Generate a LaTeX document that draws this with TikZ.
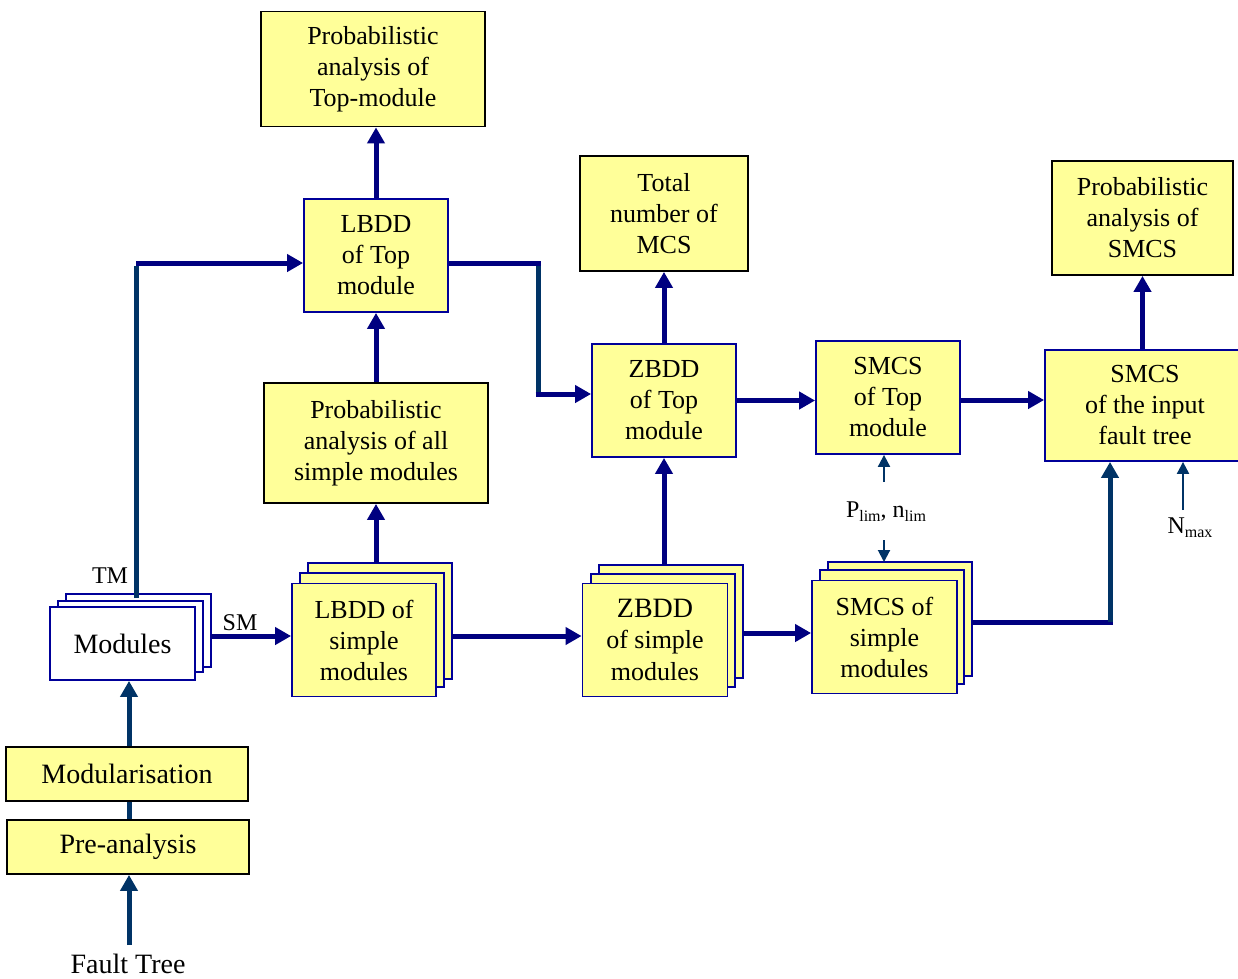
\documentclass[tikz,border=0pt]{standalone}
\usepackage{fontspec}
\setmainfont{Liberation Serif}
\usetikzlibrary{arrows.meta}
\definecolor{boxfill}{HTML}{FFFF99}
\definecolor{navyb}{HTML}{000099}
\definecolor{navyarrow}{HTML}{000080}
\definecolor{tealarrow}{HTML}{003366}
\newcommand{\sbs}[1]{\raisebox{-0.35ex}{\fontsize{16}{16}\selectfont #1}}
\begin{document}
\begin{tikzpicture}[x=1pt,y=-1pt,
  txt/.style={font=\fontsize{26}{31}\selectfont, align=center},
  outbox/.style={txt, draw=black, line width=1.8pt, fill=boxfill, inner sep=0pt},
  ddbox/.style={txt, draw=navyb, line width=1.8pt, fill=boxfill, inner sep=0pt, minimum width=144pt, minimum height=113pt},
  backbox/.style={draw=navyb, line width=1.8pt, fill=boxfill},
  thick arrow/.style={line width=5pt, -{Triangle[length=16pt,width=17pt]}},
  thin arrow/.style={line width=2pt, -{Triangle[length=12pt,width=12pt]}},
  plain/.style={line width=5pt}
]
\useasboundingbox (0,0) rectangle (1238,978);

% ---- back copies of stacked boxes
\draw[backbox] (308,563) rectangle (452,679);
\draw[backbox] (300,573) rectangle (444,687);
\draw[backbox] (599,565) rectangle (743,678);
\draw[backbox] (591,574) rectangle (735,687);
\draw[backbox] (828,562) rectangle (972,676);
\draw[backbox] (820,570) rectangle (964,684);
\draw[draw=navyb, line width=1.8pt, fill=white] (66,594) rectangle (211,667);
\draw[draw=navyb, line width=1.8pt, fill=white] (58,601) rectangle (203,672);

% ---- nodes
\node[outbox, minimum width=224pt, minimum height=115pt] (ptop) at (373,69) {Probabilistic\\analysis of\\Top-module};
\node[ddbox] (lbddtop) at (376,255.5) {LBDD\\of Top\\module};
\node[outbox, minimum width=224pt, minimum height=120pt] (pall) at (376,443) {Probabilistic\\analysis of all\\simple modules};
\node[ddbox] (lbdds) at (364,640) {LBDD of\\simple\\modules};
\node[draw=navyb, line width=1.8pt, fill=white, minimum width=145pt, minimum height=73pt, inner sep=0pt, font=\fontsize{28}{32}\selectfont] (modules) at (122.5,643.5) {Modules};
\node[outbox, minimum width=242pt, minimum height=54pt, font=\fontsize{28}{32}\selectfont] (modul) at (127,774) {Modularisation};
\node[outbox, minimum width=242pt, minimum height=54pt, font=\fontsize{28}{32}\selectfont] (prea) at (128,847) {Pre-analysis};
\node[font=\fontsize{28}{32}\selectfont, inner sep=0pt, anchor=north] (ft) at (128,954) {Fault Tree};

\node[outbox, minimum width=168pt, minimum height=115pt] (total) at (664,213.5) {Total\\number of\\MCS};
\node[ddbox] (zbddtop) at (664,400.5) {ZBDD\\of Top\\module};
\node[ddbox, minimum width=145pt, font=\fontsize{28}{32}\selectfont] (zbdds) at (655,640) {ZBDD\\[-1pt]{\fontsize{26}{31}\selectfont of simple}\\{\fontsize{26}{31}\selectfont modules}};
\node[ddbox] (smcstop) at (888,397.5) {SMCS\\of Top\\module};
\node[ddbox, minimum width=145pt] (smcss) at (884.5,637) {SMCS of\\simple\\modules};
\node[outbox, minimum width=181pt, minimum height=114pt] (psmcs) at (1142.5,218) {Probabilistic\\analysis of\\SMCS};
\node[ddbox, minimum width=200pt, minimum height=111pt] (smcsin) at (1145,405.5) {SMCS\\of the input\\fault tree};

\node[font=\fontsize{24}{28}\selectfont, inner sep=0pt] (tm) at (110,576) {TM};
\node[font=\fontsize{24}{28}\selectfont, inner sep=0pt] (sm) at (240,623) {SM};
\node[font=\fontsize{24}{28}\selectfont, inner sep=0pt] (plim) at (886,512) {P\sbs{lim}, n\sbs{lim}};
\node[font=\fontsize{24}{28}\selectfont, inner sep=0pt] (nmax) at (1190,528) {N\sbs{max}};

% ---- coordinates
\coordinate (tmtop) at (136,598);
\coordinate (tmcorner) at (136,263);
\coordinate (c1) at (538,263);
\coordinate (c2) at (538,394);
\coordinate (c3) at (1110,622);
\coordinate (lbddsback) at (376,563);
\coordinate (zbddsback) at (664,565);
\coordinate (smcsback) at (884,562);
\coordinate (plimup) at (884,482);
\coordinate (plimdown) at (884,540);
\coordinate (nmaxtop) at (1183,510);
\coordinate (ftend) at (129,945);

% ---- connectors
\draw[thick arrow, navyarrow] (lbddtop.north) -- (lbddtop.north |- ptop.south);
\draw[thick arrow, navyarrow] (pall.north) -- (pall.north |- lbddtop.south);
\draw[thick arrow, navyarrow] (lbddsback) -- (pall.south -| lbddsback);
\draw[thick arrow, navyarrow] (tmcorner) -- (lbddtop.west |- tmcorner);
\draw[plain, tealarrow] (tmtop) -- ([yshift=-2.5pt]tmcorner);
\draw[plain, navyarrow] (lbddtop.east |- c1) -- ([xshift=2.5pt]c1);
\draw[plain, tealarrow] ([yshift=-2.5pt]c1) -- ([yshift=2.5pt]c2);
\draw[thick arrow, navyarrow] ([xshift=-2.5pt]c2) -- (zbddtop.west |- c2);
\draw[thick arrow, navyarrow] (zbddtop.north) -- (total.south);
\draw[thick arrow, navyarrow] (zbddsback) -- (zbddtop.south);
\draw[thick arrow, navyarrow] (zbddtop.east) -- (smcstop.west |- zbddtop.east);
\draw[thick arrow, navyarrow] (smcstop.east |- 0,400) -- (smcsin.west |- 0,400);
\draw[thick arrow, navyarrow] (smcsin.north -| psmcs.south) -- (psmcs.south);
\draw[plain, navyarrow] (972,622) -- ([xshift=2.5pt]c3);
\draw[thick arrow, tealarrow] (c3) -- (smcsin.south -| c3);
\draw[thick arrow, navyarrow] (211,636) -- (lbdds.west |- 0,636);
\draw[thick arrow, navyarrow] (452,636) -- (zbdds.west |- 0,636);
\draw[thick arrow, navyarrow] (743,633) -- (smcss.west |- 0,633);
\draw[thick arrow, tealarrow] (modul.north -| 129,0) -- (modules.south -| 129,0);
\draw[plain, tealarrow] (prea.north -| 129,0) -- (modul.south -| 129,0);
\draw[thick arrow, tealarrow] (ftend) -- (prea.south -| ftend);
\draw[thin arrow, tealarrow] (plimup) -- (smcstop.south -| plimup);
\draw[thin arrow, tealarrow] (plimdown) -- (smcsback);
\draw[thin arrow, tealarrow] (nmaxtop) -- (smcsin.south -| nmaxtop);
\end{tikzpicture}
\end{document}
